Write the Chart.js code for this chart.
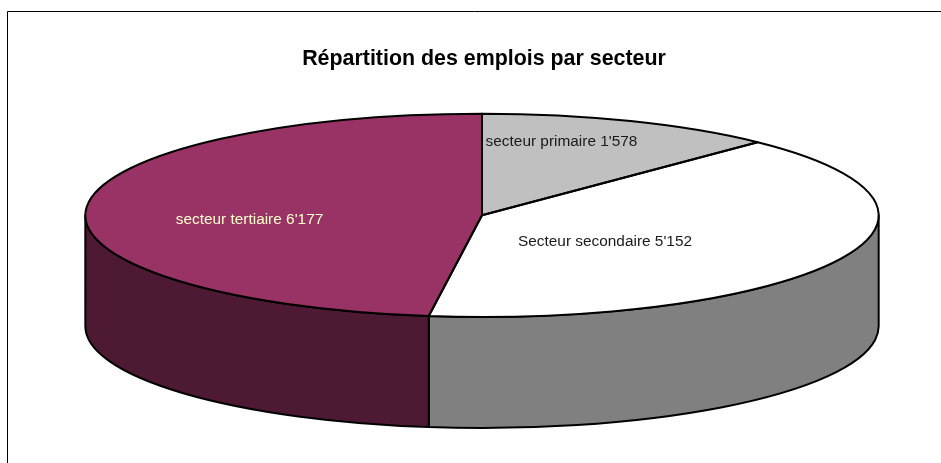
<!DOCTYPE html>
<html lang="fr">
<head>
<meta charset="utf-8">
<title>Répartition des emplois par secteur</title>
<script src="https://cdn.jsdelivr.net/npm/chart.js@4"></script>
<style>
    html, body { margin: 0; padding: 0; background: #fff; }
    canvas { display: block; }
</style>
</head>
<body>
<canvas id="secteurChart" width="941" height="463"></canvas>
<script>
const titre = "Répartition des emplois par secteur";
const secteurs = ["secteur primaire", "Secteur secondaire", "secteur tertiaire"];
const emplois = [1578, 5152, 6177];
const couleurs = ["#C0C0C0", "#FFFFFF", "#993366"];
const couleursFlanc = ["#606060", "#808080", "#4D1933"];
const couleursTexte = ["#1A1A1A", "#1A1A1A", "#FFFFCC"];

// décalage des étiquettes par rapport au centre du camembert (px)
const decalageEtiquettes = [[79.5, -74], [123, 26], [-232.5, 4]];

const ETIREMENT = 398 / 102; // cercle de Chart.js -> ellipse
const EPAISSEUR = 111;       // hauteur du flanc
const DX = -2;               // le titre n'est pas tout à fait centré sur le camembert

function formatNombre(n) {
    return String(n).replace(/\B(?=(\d{3})+$)/g, "'");
}

// Perspective : on étire horizontalement les arcs dessinés par Chart.js
const camembert3D = {
    id: "camembert3D",
    beforeDraw(chart) {
        // cadre gauche et haut
        const ctx = chart.ctx;
        ctx.save();
        ctx.strokeStyle = "#000";
        ctx.lineWidth = 1;
        ctx.beginPath();
        ctx.moveTo(7.5, 463);
        ctx.lineTo(7.5, 11.5);
        ctx.lineTo(941, 11.5);
        ctx.stroke();
        ctx.restore();
    },
    beforeDatasetsDraw(chart) {
        const ctx = chart.ctx;
        const arcs = chart.getDatasetMeta(0).data;
        const x = arcs[0].x + DX, y = arcs[0].y;
        const ry = arcs[0].outerRadius, rx = ry * ETIREMENT;

        // flancs : seule la moitié avant (0 à PI) est visible
        ctx.save();
        ctx.strokeStyle = "#000";
        ctx.lineWidth = 2;
        ctx.lineJoin = "round";
        arcs.forEach((arc, i) => {
            const debut = Math.max(arc.startAngle, 0);
            const fin = Math.min(arc.endAngle, Math.PI);
            if (fin <= debut) return;
            ctx.beginPath();
            ctx.ellipse(x, y, rx, ry, 0, debut, fin);
            ctx.ellipse(x, y + EPAISSEUR, rx, ry, 0, fin, debut, true);
            ctx.closePath();
            ctx.fillStyle = couleursFlanc[i];
            ctx.fill();
            ctx.stroke();
        });
        ctx.restore();

        ctx.save();
        ctx.translate(x, 0);
        ctx.scale(ETIREMENT, 1);
        ctx.translate(-arcs[0].x, 0);
    },
    afterDatasetsDraw(chart) {
        const ctx = chart.ctx;
        ctx.restore();

        const arcs = chart.getDatasetMeta(0).data;
        const x = arcs[0].x + DX, y = arcs[0].y;
        const ry = arcs[0].outerRadius, rx = ry * ETIREMENT;

        // contours à épaisseur constante
        ctx.save();
        ctx.strokeStyle = "#000";
        ctx.lineWidth = 2;
        ctx.lineJoin = "round";
        arcs.forEach(arc => {
            ctx.beginPath();
            ctx.moveTo(x, y);
            ctx.ellipse(x, y, rx, ry, 0, arc.startAngle, arc.endAngle);
            ctx.closePath();
            ctx.stroke();
        });

        // étiquettes
        ctx.font = "15.4px 'Liberation Sans', Arial, sans-serif";
        ctx.textAlign = "center";
        ctx.textBaseline = "middle";
        secteurs.forEach((s, i) => {
            ctx.fillStyle = couleursTexte[i];
            ctx.fillText(s + " " + formatNombre(emplois[i]), x + decalageEtiquettes[i][0], y + decalageEtiquettes[i][1]);
        });
        ctx.restore();
    }
};

new Chart(document.getElementById("secteurChart"), {
    type: "pie",
    data: {
        labels: secteurs,
        datasets: [{
            data: emplois,
            backgroundColor: couleurs,
            borderWidth: 0,
            clip: false
        }]
    },
    options: {
        responsive: false,
        animation: false,
        events: [],
        layout: { padding: { left: 86, right: 59, top: 46, bottom: 146 } },
        plugins: {
            legend: { display: false },
            tooltip: { enabled: false },
            title: {
                display: true,
                text: titre,
                color: "#000",
                font: { family: "'Liberation Sans', Arial, sans-serif", size: 21.4, weight: "bold" },
                padding: { top: 0, bottom: 42 }
            }
        }
    },
    plugins: [camembert3D]
});
</script>
</body>
</html>
